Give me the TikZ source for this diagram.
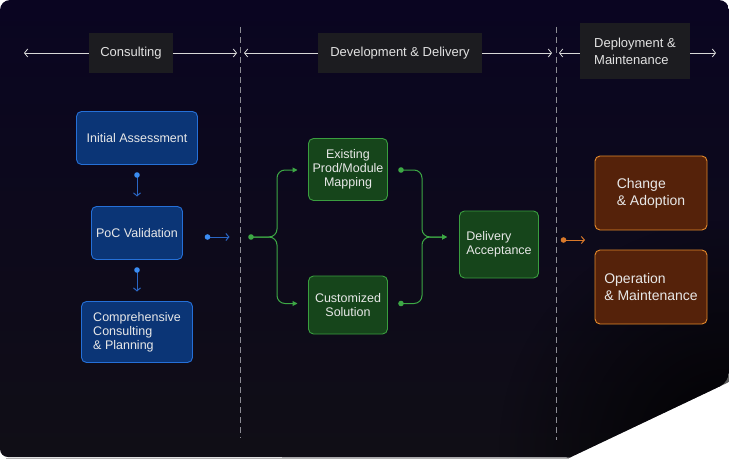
\documentclass[tikz,border=0pt]{standalone}
\usepackage{fontspec}
\setmainfont{Liberation Sans}
\usetikzlibrary{arrows.meta,fadings}

\definecolor{bgtop}{HTML}{0A0521}
\definecolor{bgbot}{HTML}{100E16}
\definecolor{hdrfill}{HTML}{1C1C20}
\definecolor{hdrtext}{HTML}{E2E2E2}
\definecolor{hdrline}{HTML}{D8D8D8}
\definecolor{sepline}{HTML}{8C8C94}
\definecolor{bluefill}{HTML}{0B3576}
\definecolor{bluedraw}{HTML}{2570D8}
\definecolor{blueline}{HTML}{2A66C4}
\definecolor{bluedot}{HTML}{3A8CF2}
\definecolor{greenfill}{HTML}{16451B}
\definecolor{greendraw}{HTML}{3A9E3F}
\definecolor{greenline}{HTML}{3DA845}
\definecolor{orangefill}{HTML}{55220A}
\definecolor{orangedraw}{HTML}{E3892B}
\definecolor{orangeline}{HTML}{D9792A}
\definecolor{boxtext}{HTML}{E8E8E8}

\tikzfading[name=cornerdark, inner color=transparent!0, outer color=transparent!100]

\tikzset{
  stage/.style={fill=hdrfill, text=hdrtext, inner sep=0pt,
    font=\fontsize{13}{17}\selectfont},
  phaseline/.style={draw=hdrline, line width=0.8pt,
    >={Straight Barb[length=3.2pt,width=8pt]}},
  sep/.style={draw=sepline, line width=0.8pt, dash pattern=on 6pt off 4pt},
  card/.style={rounded corners=5pt, line width=0.9pt, text=boxtext,
    inner sep=0pt, align=left},
  bluecard/.style={card, fill=bluefill, draw=bluedraw,
    font=\fontsize{12.5}{14}\selectfont},
  greencard/.style={card, fill=greenfill, draw=greendraw,
    font=\fontsize{12.5}{14}\selectfont},
  orangecard/.style={card, fill=orangefill, draw=orangedraw,
    font=\fontsize{14}{17}\selectfont},
  bluelink/.style={draw=blueline, line width=1pt,
    -{Straight Barb[length=3pt,width=7pt]}},
  greenlink/.style={draw=greenline, line width=1pt, rounded corners=8pt,
    -{Triangle[length=5pt,width=5pt]}},
  orangelink/.style={draw=orangeline, line width=1pt,
    -{Straight Barb[length=3pt,width=7pt]}},
}

\begin{document}
\begin{tikzpicture}[x=1pt,y=-1pt]
\useasboundingbox (0,0) rectangle (729,460);

% thin lower edge of the panel
\draw[gray!60, line width=1pt] (6,458.3) -- (569,458.3);

% panel
\shade[top color=bgtop, bottom color=bgbot, rounded corners=10pt]
  (0,457) -- (0,0) -- (729,0) -- (729,382) [sharp corners] -- (570,457.5) [rounded corners=8pt] -- cycle;
\begin{scope}
  \clip (0,457) -- (0,0) -- (729,0) -- (729,382) -- (570,457.5) -- cycle;
  \fill[black, path fading=cornerdark, opacity=0.9] (729,450) circle (230pt);
\end{scope}

% phase separators
\draw[sep] (240,27) -- (240,438);
\draw[sep] (556,27) -- (556,440);

% phase headers
\node[stage, minimum width=84pt, minimum height=40pt] (hcon) at (131,53) {Consulting};
\node[stage, minimum width=164pt, minimum height=40pt] (hdev) at (400,53) {Development \& Delivery};
\node[stage, minimum width=110pt, minimum height=56pt, align=left] (hdep) at (635,51)
  {Deployment \&\\Maintenance};

\coordinate (c0) at (24,53);
\coordinate (c1) at (237,53);
\coordinate (d0) at (244,53);
\coordinate (d1) at (552,53);
\coordinate (e0) at (559,53);
\coordinate (e1) at (716,53);
\draw[phaseline, <-] (c0) -- (hcon.west);
\draw[phaseline, ->] (hcon.east) -- (c1);
\draw[phaseline, <-] (d0) -- (hdev.west);
\draw[phaseline, ->] (hdev.east) -- (d1);
\draw[phaseline, <-] (e0) -- (hdep.west |- e0);
\draw[phaseline, ->] (hdep.east |- e1) -- (e1);

% consulting
\node[bluecard, minimum width=121pt, minimum height=53pt] (ia) at (137,138) {Initial Assessment};
\node[bluecard, minimum width=91pt, minimum height=53pt] (poc) at (137,233) {PoC Validation};
\node[bluecard, minimum width=111pt, minimum height=61pt] (ccp) at (137,332)
  {Comprehensive\\Consulting\\\& Planning};

\coordinate (b1s) at (137,175);
\coordinate (b1e) at (137,196.5);
\coordinate (b2s) at (137,270);
\coordinate (b2e) at (137,291.5);
\coordinate (b3s) at (207.5,237);
\coordinate (b3e) at (229.5,237);
\draw[bluelink] (b1s) -- (b1e);
\draw[bluelink] (b2s) -- (b2e);
\draw[bluelink] (b3s) -- (b3e);
\foreach \p in {b1s,b2s,b3s} \fill[bluedot] (\p) circle (2.8pt);

% development & delivery
\node[greencard, align=center, minimum width=79pt, minimum height=62pt] (epm) at (348,169.5)
  {Existing\\Prod/Module\\Mapping};
\node[greencard, align=center, minimum width=79pt, minimum height=58pt] (cus) at (348,305)
  {Customized\\Solution};
\node[greencard, minimum width=79pt, minimum height=67pt] (dac) at (499,244.5)
  {Delivery\\Acceptance};

\coordinate (g0) at (251,237);
\coordinate (gup) at (297.5,170);
\coordinate (gdn) at (297.5,303.5);
\coordinate (r1) at (401,170);
\coordinate (r2) at (401,303.5);
\coordinate (gin) at (447,237);
\draw[greenlink] (g0) -- (277,237) |- (gup);
\draw[greenlink] (g0) -- (277,237) |- (gdn);
\draw[greenlink] (r1) -- (422,170) |- (gin);
\draw[greenlink] (r2) -- (422,303.5) |- (gin);
\foreach \p in {g0,r1,r2} \fill[greenline] (\p) circle (2.8pt);

% deployment & maintenance
\node[orangecard, minimum width=112pt, minimum height=74pt] (cad) at (651,193)
  {Change\\\& Adoption};
\node[orangecard, minimum width=112pt, minimum height=74pt] (oam) at (651,287)
  {Operation\\\& Maintenance};

\coordinate (o0) at (563.5,240);
\coordinate (o1) at (585,240);
\draw[orangelink] (o0) -- (o1);
\fill[orangeline] (o0) circle (2.8pt);
\end{tikzpicture}
\end{document}
